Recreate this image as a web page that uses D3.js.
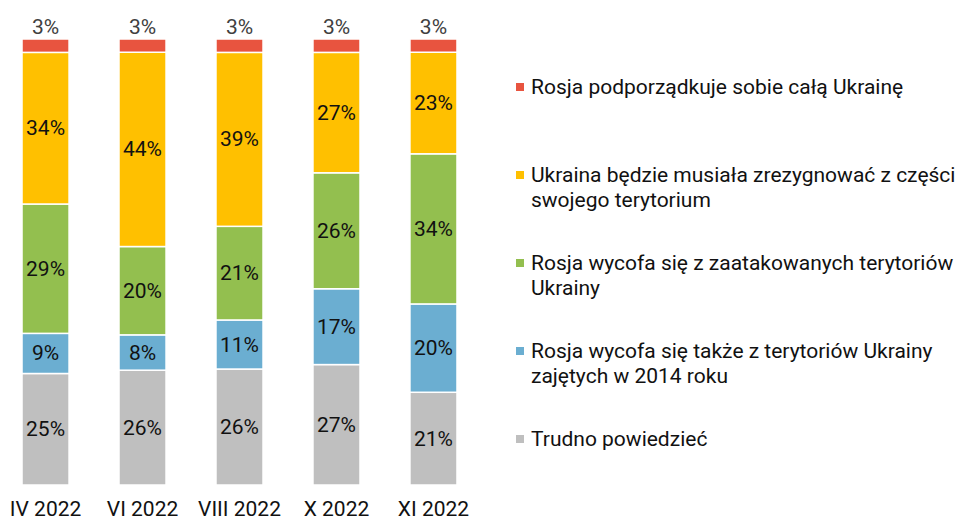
<!DOCTYPE html>
<html lang="pl">

<head>
    <meta charset="utf-8">
    <title>stacked bars</title>
    <script src="https://cdn.jsdelivr.net/npm/d3@7"></script>
    <style>
        body {
            margin: 0;
            background: #fff;
        }

        text {
            font-family: Roboto, "Noto Sans", sans-serif;
        }
    </style>
</head>

<body>
    <script>
        var periods = ['IV 2022', 'VI 2022', 'VIII 2022', 'X 2022', 'XI 2022'];
        var keys = ['trudno', 'wycofa2014', 'wycofa', 'zrezygnuje', 'podporzadkuje'];
        var legendLabels = [
            ['Rosja podporządkuje sobie całą Ukrainę'],
            ['Ukraina będzie musiała zrezygnować z części', 'swojego terytorium'],
            ['Rosja wycofa się z zaatakowanych terytoriów', 'Ukrainy'],
            ['Rosja wycofa się także z terytoriów Ukrainy', 'zajętych w 2014 roku'],
            ['Trudno powiedzieć']];
        var colors = ['#bfbfbf', '#6baed1', '#93bf4f', '#ffc000', '#e8543f'];

        var trudno = [25, 26, 26, 27, 21];
        var wycofa2014 = [9, 8, 11, 17, 20];
        var wycofa = [29, 20, 21, 26, 34];
        var zrezygnuje = [34, 44, 39, 27, 23];
        var podporzadkuje = [3, 3, 3, 3, 3];

        var series = { trudno: trudno, wycofa2014: wycofa2014, wycofa: wycofa, zrezygnuje: zrezygnuje, podporzadkuje: podporzadkuje };
        var rows = periods.map(function (p, i) {
            var r = { period: p };
            keys.forEach(function (k) { r[k] = series[k][i]; });
            return r;
        });

        var width = 963, height = 520, fontSize = '21px';
        var svg = d3.select('body')
            .append('svg')
            .attr('width', width)
            .attr('height', height);

        var xScale = d3.scaleBand()
            .domain(periods)
            .range([0, 479])
            .paddingInner(0.515)
            .paddingOuter(0.227);
        var yScale = d3.scaleLinear()
            .domain([0, 1])
            .range([485, 39]);

        var stacked = d3.stack().keys(keys).offset(d3.stackOffsetExpand)(rows);

        var layers = svg.append('g').selectAll('g')
            .data(stacked)
            .enter().append('g')
            .attr('fill', function (d, i) { return colors[i]; });

        layers.selectAll('rect')
            .data(function (d) { return d; })
            .enter().append('rect')
            .attr('x', function (d) { return xScale(d.data.period); })
            .attr('y', function (d) { return yScale(d[1]); })
            .attr('width', xScale.bandwidth())
            .attr('height', function (d) { return yScale(d[0]) - yScale(d[1]); })
            .attr('stroke', '#fff')
            .attr('stroke-width', 1.5);

        // etykiety w słupkach, górna warstwa nad słupkiem
        stacked.forEach(function (layer, li) {
            var top = li === stacked.length - 1;
            svg.append('g').selectAll('text')
                .data(layer)
                .enter().append('text')
                .attr('x', function (d) { return xScale(d.data.period) + xScale.bandwidth() / 2; })
                .attr('y', function (d) {
                    return top ? yScale(d[1]) - 12 : yScale((d[0] + d[1]) / 2);
                })
                .attr('text-anchor', 'middle')
                .attr('dominant-baseline', 'central')
                .attr('fill', top ? '#404040' : '#111')
                .style('font-size', fontSize)
                .text(function (d) { return d.data[layer.key] + '%'; });
        });

        // oś x
        var xAxis = svg.append('g')
            .attr('transform', 'translate(0, 485)')
            .call(d3.axisBottom(xScale).tickSize(0).tickPadding(16));
        xAxis.select('.domain').remove();
        xAxis.selectAll('text')
            .style('font-size', fontSize)
            .style('font-family', 'Roboto, "Noto Sans", sans-serif')
            .attr('fill', '#111');

        // legenda
        var legendOrder = [4, 3, 2, 1, 0];
        var legend = svg.append('g').selectAll('g')
            .data(legendLabels)
            .enter().append('g')
            .attr('transform', function (d, i) { return 'translate(516,' + (87 + i * 88) + ')'; });
        legend.append('rect')
            .attr('x', 0)
            .attr('y', -4)
            .attr('width', 8)
            .attr('height', 8)
            .attr('fill', function (d, i) { return colors[legendOrder[i]]; });
        legend.append('text')
            .attr('fill', '#111')
            .style('font-size', fontSize)
            .selectAll('tspan')
            .data(function (d) { return d; })
            .enter().append('tspan')
            .attr('x', 15)
            .attr('y', function (d, i) { return i * 25; })
            .attr('dominant-baseline', 'central')
            .text(function (d) { return d; });
    </script>
</body>

</html>
